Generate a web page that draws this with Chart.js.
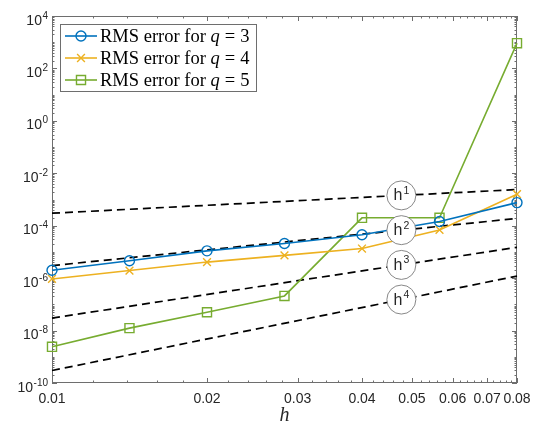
<!DOCTYPE html>
<html>
<head>
<meta charset="utf-8">
<script src="https://cdn.jsdelivr.net/npm/chart.js@4.4.1/dist/chart.umd.min.js"></script>
<style>
  html, body { margin: 0; padding: 0; background: #fff; }
  #wrap { width: 538px; height: 429px; position: relative; }
</style>
</head>
<body>
<div id="wrap"><canvas id="errChart"></canvas></div>
<script>
// mesh sizes and RMS errors for each order q
const hValues = [0.01, 0.01414, 0.02, 0.02828, 0.04, 0.05657, 0.08]
const errQ3 = [2.0e-6, 4.6e-6, 1.1e-5, 2.1e-5, 4.5e-5, 1.45e-4, 7.6e-4]
const errQ4 = [9.3e-7, 1.95e-6, 4.1e-6, 7.4e-6, 1.35e-5, 6.9e-5, 1.6e-3]
const errQ5 = [2.4e-9, 1.24e-8, 5.0e-8, 2.1e-7, 2.0e-4, 2.0e-4, 9.2e2]
const qOrders = [3, 4, 5]

// reference slopes h^1..h^4, given at the two ends of the h range
const refEnds = [0.01, 0.08]
const refH1 = [3.0e-4, 2.4e-3]
const refH2 = [3.0e-6, 1.9e-4]
const refH3 = [3.0e-8, 1.5e-5]
const refH4 = [3.0e-10, 1.2e-6]
const refPowers = ['1', '2', '3', '4']
const refLabelAt = 0.0477

const xTickLabels = ['0.01', '0.02', '0.03', '0.04', '0.05', '0.06', '0.07', '0.08']
const yTickExps = [-10, -8, -6, -4, -2, 0, 2, 4]

const AXIS_COLOR = '#6e6e6e'
const TEXT_COLOR = '#262626'
const SANS = '"Liberation Sans", Arial, sans-serif'
const SERIF = '"Liberation Serif", "Times New Roman", serif'
const TICK_FONT = '14px ' + SANS
const EXP_FONT = '10px ' + SANS

const toPoints = (xs, ys) => xs.map((x, i) => ({ x: x, y: ys[i] }))

const errorSets = [
    { data: errQ3, color: '#0072BD', style: 'circle', radius: 5 },
    { data: errQ4, color: '#EDB120', style: 'crossRot', radius: 5.5 },
    { data: errQ5, color: '#77AC30', style: 'rect', radius: 6.4 }
].map((s, i) => ({
    label: 'RMS error for q = ' + qOrders[i],
    data: toPoints(hValues, s.data),
    borderColor: s.color,
    backgroundColor: s.color,
    borderWidth: 1.6,
    pointStyle: s.style,
    pointRadius: s.radius,
    pointBorderWidth: 1.4,
    pointBorderColor: s.color,
    pointBackgroundColor: 'rgba(0,0,0,0)',
    clip: false,
    order: 0
}))

const refSets = [refH1, refH2, refH3, refH4].map((ys, i) => ({
    label: 'h' + refPowers[i],
    data: toPoints(refEnds, ys),
    borderColor: '#000',
    borderWidth: 1.7,
    borderDash: [8, 5],
    pointRadius: 0,
    clip: false,
    order: 1
}))

function legendMarker(ctx, style, x, y, r) {
    ctx.beginPath()
    if (style === 'circle') {
        ctx.arc(x, y, r, 0, Math.PI * 2)
    } else if (style === 'rect') {
        const s = r * Math.SQRT1_2
        ctx.rect(x - s, y - s, 2 * s, 2 * s)
    } else {
        const s = r * Math.SQRT1_2
        ctx.moveTo(x - s, y - s); ctx.lineTo(x + s, y + s)
        ctx.moveTo(x - s, y + s); ctx.lineTo(x + s, y - s)
    }
    ctx.stroke()
}

const matlabAxes = {
    id: 'matlabAxes',
    beforeDatasetsDraw(chart) {
        const { ctx, chartArea: a, scales: { x, y } } = chart
        ctx.save()
        ctx.strokeStyle = AXIS_COLOR
        ctx.lineWidth = 1
        ctx.beginPath()
        // x ticks every 0.002, labelled ones longer
        for (let i = 10; i <= 80; i += 2) {
            const px = Math.round(x.getPixelForValue(i / 1000)) + 0.5
            const len = i % 10 === 0 ? 5 : 2.5
            ctx.moveTo(px, a.bottom); ctx.lineTo(px, a.bottom - len)
            ctx.moveTo(px, a.top); ctx.lineTo(px, a.top + len)
        }
        // y ticks at 1..9 x 10^k
        for (let k = -10; k <= 4; k++) {
            for (let m = 1; m <= 9; m++) {
                if (k === 4 && m > 1) break
                const py = Math.round(y.getPixelForValue(m * Math.pow(10, k))) + 0.5
                const len = (m === 1 && k % 2 === 0) ? 5 : 2.5
                ctx.moveTo(a.left, py); ctx.lineTo(a.left + len, py)
                ctx.moveTo(a.right, py); ctx.lineTo(a.right - len, py)
            }
        }
        ctx.stroke()
        ctx.strokeRect(a.left + 0.5, a.top + 0.5, a.right - a.left - 1, a.bottom - a.top - 1)

        // tick labels
        ctx.fillStyle = TEXT_COLOR
        ctx.font = TICK_FONT
        ctx.textAlign = 'center'
        ctx.textBaseline = 'alphabetic'
        xTickLabels.forEach(t => {
            ctx.fillText(t, x.getPixelForValue(parseFloat(t)), a.bottom + 20)
        })
        ctx.textAlign = 'left'
        yTickExps.forEach(e => {
            const py = y.getPixelForValue(Math.pow(10, e))
            ctx.font = TICK_FONT
            const wBase = ctx.measureText('10').width
            ctx.font = EXP_FONT
            const wExp = ctx.measureText(String(e)).width
            const left = a.left - 4.5 - wBase - wExp
            ctx.font = TICK_FONT
            ctx.fillText('10', left, py + 8.5)
            ctx.font = EXP_FONT
            ctx.fillText(String(e), left + wBase + 0.5, py + 2.5)
        })

        // axis title
        ctx.font = 'italic 20px ' + SERIF
        ctx.textAlign = 'center'
        ctx.fillText('h', (a.left + a.right) / 2, a.bottom + 38)
        ctx.restore()
    },
    afterDatasetsDraw(chart) {
        const { ctx, scales: { x, y } } = chart
        ctx.save()

        // circled h^p labels sitting on each reference line
        const lx = x.getPixelForValue(refLabelAt)
        const t = (Math.log(refLabelAt) - Math.log(refEnds[0])) / (Math.log(refEnds[1]) - Math.log(refEnds[0]))
        refSets.forEach((ds, i) => {
            const y0 = y.getPixelForValue(ds.data[0].y)
            const y1 = y.getPixelForValue(ds.data[1].y)
            const ly = y0 + (y1 - y0) * t
            ctx.beginPath()
            ctx.arc(lx, ly, 14.5, 0, Math.PI * 2)
            ctx.fillStyle = '#fff'
            ctx.fill()
            ctx.strokeStyle = '#7a7a7a'
            ctx.lineWidth = 0.9
            ctx.stroke()
            ctx.fillStyle = TEXT_COLOR
            ctx.textAlign = 'left'
            ctx.font = '16px ' + SANS
            const wh = ctx.measureText('h').width
            ctx.font = '10.5px ' + SANS
            const wp = ctx.measureText(refPowers[i]).width
            const left = lx - (wh + wp + 1) / 2
            ctx.font = '16px ' + SANS
            ctx.fillText('h', left, ly + 5)
            ctx.font = '10.5px ' + SANS
            ctx.fillText(refPowers[i], left + wh + 1, ly - 1.5)
        })

        // legend box, top-left inside the axes
        const bx = 60.5, by = 24.5, bw = 196, bh = 67
        ctx.fillStyle = '#fff'
        ctx.fillRect(bx, by, bw, bh)
        ctx.strokeStyle = AXIS_COLOR
        ctx.lineWidth = 1
        ctx.strokeRect(bx, by, bw, bh)
        errorSets.forEach((ds, i) => {
            const ry = 36 + i * 22
            ctx.strokeStyle = ds.borderColor
            ctx.lineWidth = 1.6
            ctx.beginPath()
            ctx.moveTo(65, ry); ctx.lineTo(97, ry)
            ctx.stroke()
            ctx.lineWidth = 1.4
            legendMarker(ctx, ds.pointStyle, 81, ry, ds.pointRadius)

            let tx = 100
            const base = ry + 5.6
            ctx.fillStyle = '#000'
            ctx.textAlign = 'left'
            ctx.font = '18.5px ' + SERIF
            ctx.fillText('RMS error for ', tx, base)
            tx += ctx.measureText('RMS error for ').width
            ctx.font = 'italic 18.5px ' + SERIF
            ctx.fillText('q', tx, base)
            tx += ctx.measureText('q').width + 5
            ctx.font = '18.5px ' + SERIF
            ctx.fillText('=', tx, base)
            tx += ctx.measureText('=').width + 5
            ctx.fillText(String(qOrders[i]), tx, base)
        })
        ctx.restore()
    }
}

const chart = new Chart(document.getElementById('errChart').getContext('2d'), {
    type: 'line',
    data: { datasets: errorSets.concat(refSets) },
    options: {
        responsive: true,
        maintainAspectRatio: false,
        animation: false,
        events: [],
        layout: { padding: { top: 16, right: 21, left: 0, bottom: 0 } },
        plugins: { legend: { display: false }, tooltip: { enabled: false } },
        scales: {
            x: {
                type: 'logarithmic', min: 0.01, max: 0.08,
                ticks: { display: false }, grid: { display: false }, border: { display: false },
                afterFit: s => { s.height = 46 }
            },
            y: {
                type: 'logarithmic', min: 1e-10, max: 1e4,
                ticks: { display: false }, grid: { display: false }, border: { display: false },
                afterFit: s => { s.width = 52 }
            }
        }
    },
    plugins: [matlabAxes]
})
</script>
</body>
</html>
